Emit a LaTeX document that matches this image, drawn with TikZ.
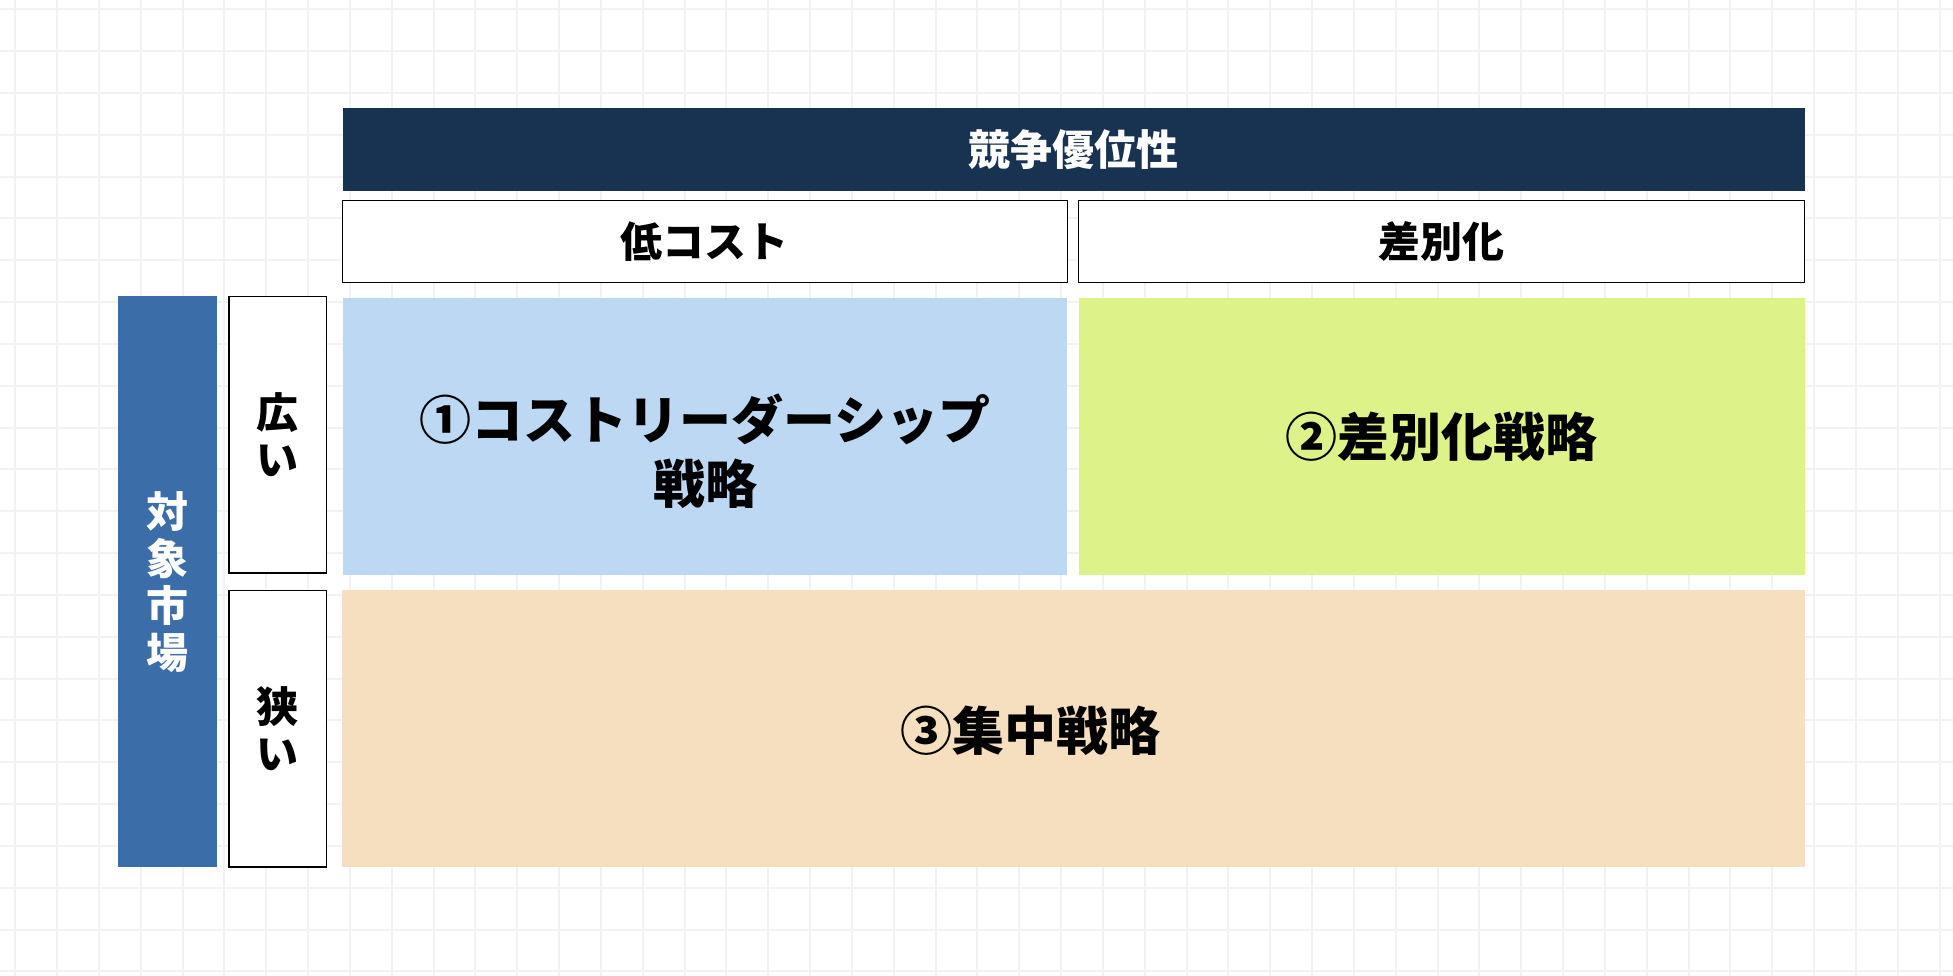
\documentclass[tikz,border=0pt]{standalone}
\usepackage{fontspec}
\setmainfont{Noto Sans CJK JP}[BoldFont={Noto Sans CJK JP Black}]
\definecolor{gridc}{HTML}{F2F2F2}
\definecolor{navy}{HTML}{183252}
\definecolor{barblue}{HTML}{3B6EA9}
\definecolor{cellblue}{HTML}{BDD8F2}
\definecolor{cellgreen}{HTML}{DDF38A}
\definecolor{cellpeach}{HTML}{F5DFBF}
\begin{document}
\begin{tikzpicture}[x=1pt,y=-1pt,
  box/.style={anchor=north west, inner sep=0pt, outer sep=0pt, align=center},
  outlined/.style={box, draw=black, line width=1.5pt, fill=white},
  hfont/.style={font=\fontsize{42}{48}\selectfont\bfseries},
  bigfont/.style={font=\fontsize{52}{63.5}\selectfont\bfseries},
  sidefont/.style={font=\fontsize{42}{47}\selectfont\bfseries},
  lbl/.style={inner sep=0pt, outer sep=0pt, align=center}]
\useasboundingbox (0,0) rectangle (1953,976);
\fill[white] (0,0) rectangle (1953,976);
\foreach \i in {0,...,46} \draw[gridc, line width=2pt] ({15.3+41.83*\i},0) -- ({15.3+41.83*\i},976);
\foreach \j in {0,...,23} \draw[gridc, line width=2pt] (0,{9.3+41.83*\j}) -- (1953,{9.3+41.83*\j});
% header
\node[box, fill=navy, minimum width=1462.2pt, minimum height=82.2pt, text=white, hfont] (hdr) at (342.5,108.4) {競争優位性};
\node[outlined, minimum width=724.9pt, minimum height=82.2pt, hfont] (low) at (342.5,200.5) {低コスト};
\node[outlined, minimum width=726.1pt, minimum height=82.2pt, hfont] (diff) at (1078.6,200.5) {差別化};
% cells
\node[box, fill=cellblue, minimum width=724.9pt, minimum height=277.7pt] (c1) at (342.5,297.7) {};
\node[lbl, bigfont] (t1) at (705,451) {①コストリーダーシップ\\戦略};
\node[box, fill=cellgreen, minimum width=726.1pt, minimum height=277.7pt, bigfont] (c2) at (1078.6,297.7) {②差別化戦略};
\node[box, fill=cellpeach, minimum width=1463.2pt, minimum height=276.5pt] (c3) at (341.5,590.4) {};
\node[lbl, bigfont] (t3) at (1030,731) {③集中戦略};
% side
\node[box, fill=barblue, minimum width=98.4pt, minimum height=570.5pt, text=white, sidefont] (bar) at (118.3,296.4) {対\\象\\市\\場};
\node[outlined, minimum width=97.3pt, minimum height=276.6pt, sidefont] (wide) at (229,296.4) {広\\い};
\node[outlined, minimum width=97.3pt, minimum height=276.5pt, sidefont] (narrow) at (229,590.4) {狭\\い};
\end{tikzpicture}
\end{document}
